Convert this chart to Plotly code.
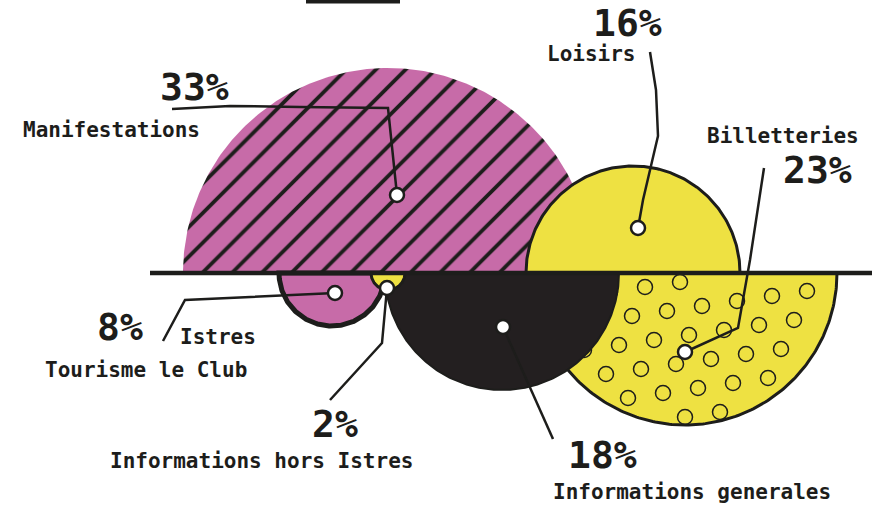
import numpy as np
import plotly.graph_objects as go

# ---------------- data ----------------
labels = ["Manifestations", "Loisirs", "Billetteries",
          "Informations generales", "Istres Tourisme le Club", "Informations hors Istres"]
values = [33, 16, 23, 18, 8, 2]

# ---------------- geometry / style (pixel units, y measured up from the baseline) -------
W, H = 881, 508
BASE = 273                          # baseline position from top of the page
side   = [1, 1, -1, -1, -1, -1]     # 1 = above baseline, -1 = below
cx     = [388, 633, 685, 502, 332, 388]
radius = [205, 107, 152, 117, 53, 17]
fills  = ["#C76BA8", "#EEE142", "#EEE142", "#231F20", "#C76BA8", "#EEE142"]
edge_w = [0, 3, 3, 2, 5, 3]
INK = "#1D1D1B"

def py(y):  # page pixel -> data y
    return BASE - y

# leader lines (page pixels): first point is the white dot
leaders = [
    [(397, 195), (388, 108), (300, 107), (230, 106), (172, 109)],
    [(638, 228), (643, 200), (658, 136), (656, 90), (650, 52)],
    [(685, 352), (738, 328), (750, 260), (764, 168)],
    [(503, 327), (553, 439)],
    [(335, 293), (185, 300), (163, 341)],
    [(387, 288), (382, 343), (330, 400)],
]
# label positions (page pixels): (pct x, pct y, [(text, x, y), ...])
label_pos = [
    (194, 87, [("Manifestations", 111, 130)]),
    (627, 23, [("Loisirs", 591, 54)]),
    (817, 170, [("Billetteries", 783, 136)]),
    (602, 455, [("Informations generales", 692, 492)]),
    (120, 327, [("Istres", 218, 337), ("Tourisme le Club", 146, 370)]),
    (335, 424, [("Informations hors Istres", 261, 461)]),
]

fig = go.Figure()

def semi(i, n=200):
    t = np.linspace(0, np.pi, n)
    x = cx[i] + radius[i] * np.cos(t)
    y = side[i] * radius[i] * np.sin(t)
    return np.append(x, x[0]), np.append(y, y[0])

for i in range(len(values)):
    x, y = semi(i)
    kw = dict(x=x, y=y, mode="lines", fill="toself", fillcolor=fills[i],
              line=dict(color=INK, width=edge_w[i]) if edge_w[i] else dict(width=0),
              hoverinfo="text", text=f"{labels[i]}: {values[i]}%", showlegend=False)
    if i == 0:
        kw["fillpattern"] = dict(shape="/", bgcolor=fills[i], fgcolor=INK,
                                 size=21, solidity=0.18, fillmode="replace")
    fig.add_trace(go.Scatter(**kw))
    if i == 2:
        # ring pattern inside the dotted half disc
        a = np.array([35.0, 5.0]); b = np.array([13.0, 29.0])
        rx, ry = [], []
        for m in range(-12, 13):
            for k in range(-12, 13):
                p = np.array([cx[i] - 40, -14.0]) + m * a + k * b
                d = np.hypot(p[0] - cx[i], p[1])
                if d < radius[i] - 7 and p[1] < -8:
                    rx.append(p[0]); ry.append(p[1])
        fig.add_trace(go.Scatter(x=rx, y=ry, mode="markers", hoverinfo="skip",
                                 marker=dict(symbol="circle-open", size=15, color=INK,
                                             line=dict(width=1.5)),
                                 showlegend=False))

# baseline
fig.add_trace(go.Scatter(x=[150, 872], y=[0, 0], mode="lines",
                         line=dict(color=INK, width=4.5), hoverinfo="skip", showlegend=False))

# leader lines and dots
for pts in leaders:
    xs = [p[0] for p in pts]; ys = [py(p[1]) for p in pts]
    fig.add_trace(go.Scatter(x=xs, y=ys, mode="lines", line=dict(color=INK, width=2.5),
                             hoverinfo="skip", showlegend=False))
fig.add_trace(go.Scatter(x=[p[0][0] for p in leaders], y=[py(p[0][1]) for p in leaders],
                         mode="markers", hoverinfo="skip", showlegend=False,
                         marker=dict(symbol="circle", size=14, color="white",
                                     line=dict(color=INK, width=2.5))))

PCT_FONT = dict(family="DejaVu Sans Mono", size=38, color=INK, weight="bold")
LBL_FONT = dict(family="DejaVu Sans Mono", size=21, color=INK, weight="bold")

ann = []
for i, (px_, py_, names) in enumerate(label_pos):
    ann.append(dict(x=px_, y=py(py_), text=f"{values[i]}%", showarrow=False,
                    font=PCT_FONT, xanchor="center", yanchor="middle"))
    for txt, nx, ny in names:
        ann.append(dict(x=nx, y=py(ny), text=txt, showarrow=False,
                        font=LBL_FONT, xanchor="center", yanchor="middle"))

fig.update_layout(
    width=W, height=H, margin=dict(l=0, r=0, t=0, b=0),
    paper_bgcolor="white", plot_bgcolor="white",
    xaxis=dict(range=[0, W], visible=False, fixedrange=True),
    yaxis=dict(range=[BASE - H, BASE], visible=False, fixedrange=True),
    annotations=ann,
    shapes=[dict(type="rect", xref="x", yref="y", x0=306, x1=400, y0=BASE - 3.5, y1=BASE,
                 fillcolor=INK, line=dict(width=0))],
)

fig.write_html("out.html", config={"displayModeBar": False},
               post_script="document.body.style.margin='0';document.body.style.overflow='hidden';")
